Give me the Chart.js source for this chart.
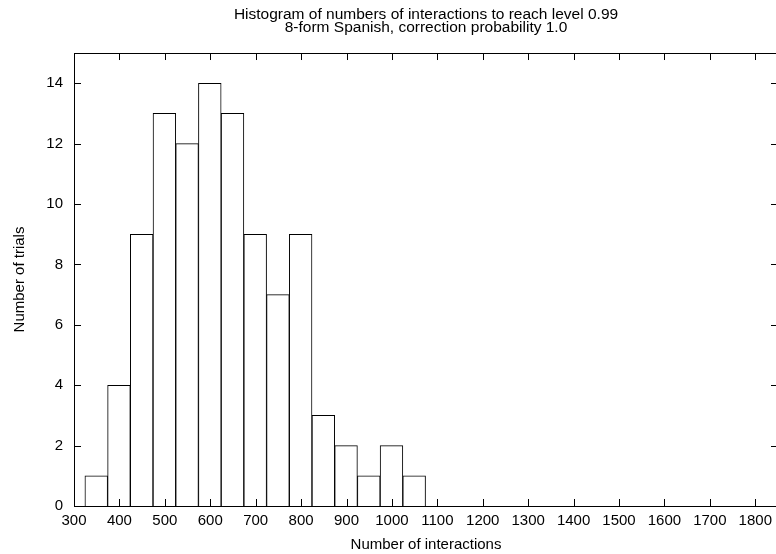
<!DOCTYPE html>
<html>
<head>
<meta charset="utf-8">
<script src="https://cdn.jsdelivr.net/npm/chart.js@4/dist/chart.umd.min.js"></script>
<style>
  html, body { margin: 0; padding: 0; background: #fff; overflow: hidden; }
  #wrap { position: relative; width: 780px; height: 554px; }
</style>
</head>
<body>
<div id="wrap"><canvas id="c" width="780" height="554"></canvas></div>
<script>
const titleLines = ['Histogram of numbers of interactions to reach level 0.99', '8-form Spanish, correction probability 1.0'];
const xTitle = 'Number of interactions';
const yTitle = 'Number of trials';
const binCenters = [349, 399, 449, 499, 549, 599, 649, 699, 749, 799, 849, 899, 949, 999, 1049];
const counts = [1, 4, 9, 13, 12, 14, 13, 9, 7, 9, 3, 2, 1, 2, 1];
const xTicks = [300, 400, 500, 600, 700, 800, 900, 1000, 1100, 1200, 1300, 1400, 1500, 1600, 1700, 1800];
const yTicks = [0, 2, 4, 6, 8, 10, 12, 14];
const xRange = [300, 1850];
const yRange = [0, 15];

const FONT = "'Liberation Sans', Arial, Helvetica, sans-serif";
Chart.defaults.color = '#000';
Chart.defaults.font.family = FONT;
Chart.defaults.font.size = 15;

const frame = {
  id: 'frame',
  afterDatasetsDraw(chart) {
    const ctx = chart.ctx;
    const a = chart.chartArea;
    const xs = chart.scales.x, ys = chart.scales.y;
    const L = 7;
    ctx.save();
    ctx.strokeStyle = '#000';
    ctx.lineWidth = 1;
    ctx.beginPath();
    xs.ticks.forEach(t => {
      const px = Math.round(xs.getPixelForValue(t.value)) + 0.5;
      ctx.moveTo(px, a.bottom); ctx.lineTo(px, a.bottom - L);
      ctx.moveTo(px, a.top); ctx.lineTo(px, a.top + L);
    });
    ys.ticks.forEach(t => {
      const py = Math.round(ys.getPixelForValue(t.value)) + 0.5;
      ctx.moveTo(a.left, py); ctx.lineTo(a.left + L, py);
      ctx.moveTo(a.right, py); ctx.lineTo(a.right - L, py);
    });
    ctx.stroke();
    ctx.strokeRect(Math.round(a.left) + 0.5, Math.round(a.top) + 0.5,
                   Math.round(a.right - a.left), Math.round(a.bottom - a.top));
    ctx.restore();
  }
};

new Chart(document.getElementById('c'), {
  type: 'bar',
  data: {
    datasets: [{
      data: binCenters.map((x, i) => ({ x: x, y: counts[i] })),
      backgroundColor: '#fff',
      borderColor: '#000',
      borderWidth: 1,
      barPercentage: 1,
      categoryPercentage: 1
    }]
  },
  options: {
    responsive: false,
    animation: false,
    events: [],
    layout: { padding: { top: 0, left: 0, right: 2, bottom: 0 } },
    plugins: {
      legend: { display: false },
      tooltip: { enabled: false },
      title: {
        display: true,
        text: titleLines,
        fullSize: false,
        font: { size: 15.5, weight: 'normal', lineHeight: 0.87 },
        padding: { top: 7.75, bottom: 18.3 },
        color: '#000'
      }
    },
    scales: {
      x: {
        type: 'linear',
        offset: false,
        min: xRange[0],
        max: xRange[1],
        grid: { display: false, drawTicks: false, offset: false },
        border: { display: false },
        afterBuildTicks: s => { s.ticks = xTicks.map(v => ({ value: v })); },
        afterFit: s => { s.height = 48; },
        ticks: { padding: 6, autoSkip: false, maxRotation: 0, font: { size: 15 }, callback: v => String(v) },
        title: { display: true, text: xTitle, padding: { top: 0, bottom: 0 }, font: { size: 15 } }
      },
      y: {
        type: 'linear',
        min: yRange[0],
        max: yRange[1],
        grid: { display: false, drawTicks: false },
        border: { display: false },
        afterBuildTicks: s => { s.ticks = yTicks.map(v => ({ value: v })); },
        afterFit: s => { s.width = 74; },
        ticks: { padding: 11, font: { size: 15 }, callback: v => String(v) },
        title: { display: true, text: yTitle, padding: { top: 10.8, bottom: 0 }, font: { size: 15 } }
      }
    }
  },
  plugins: [frame]
});
</script>
</body>
</html>
